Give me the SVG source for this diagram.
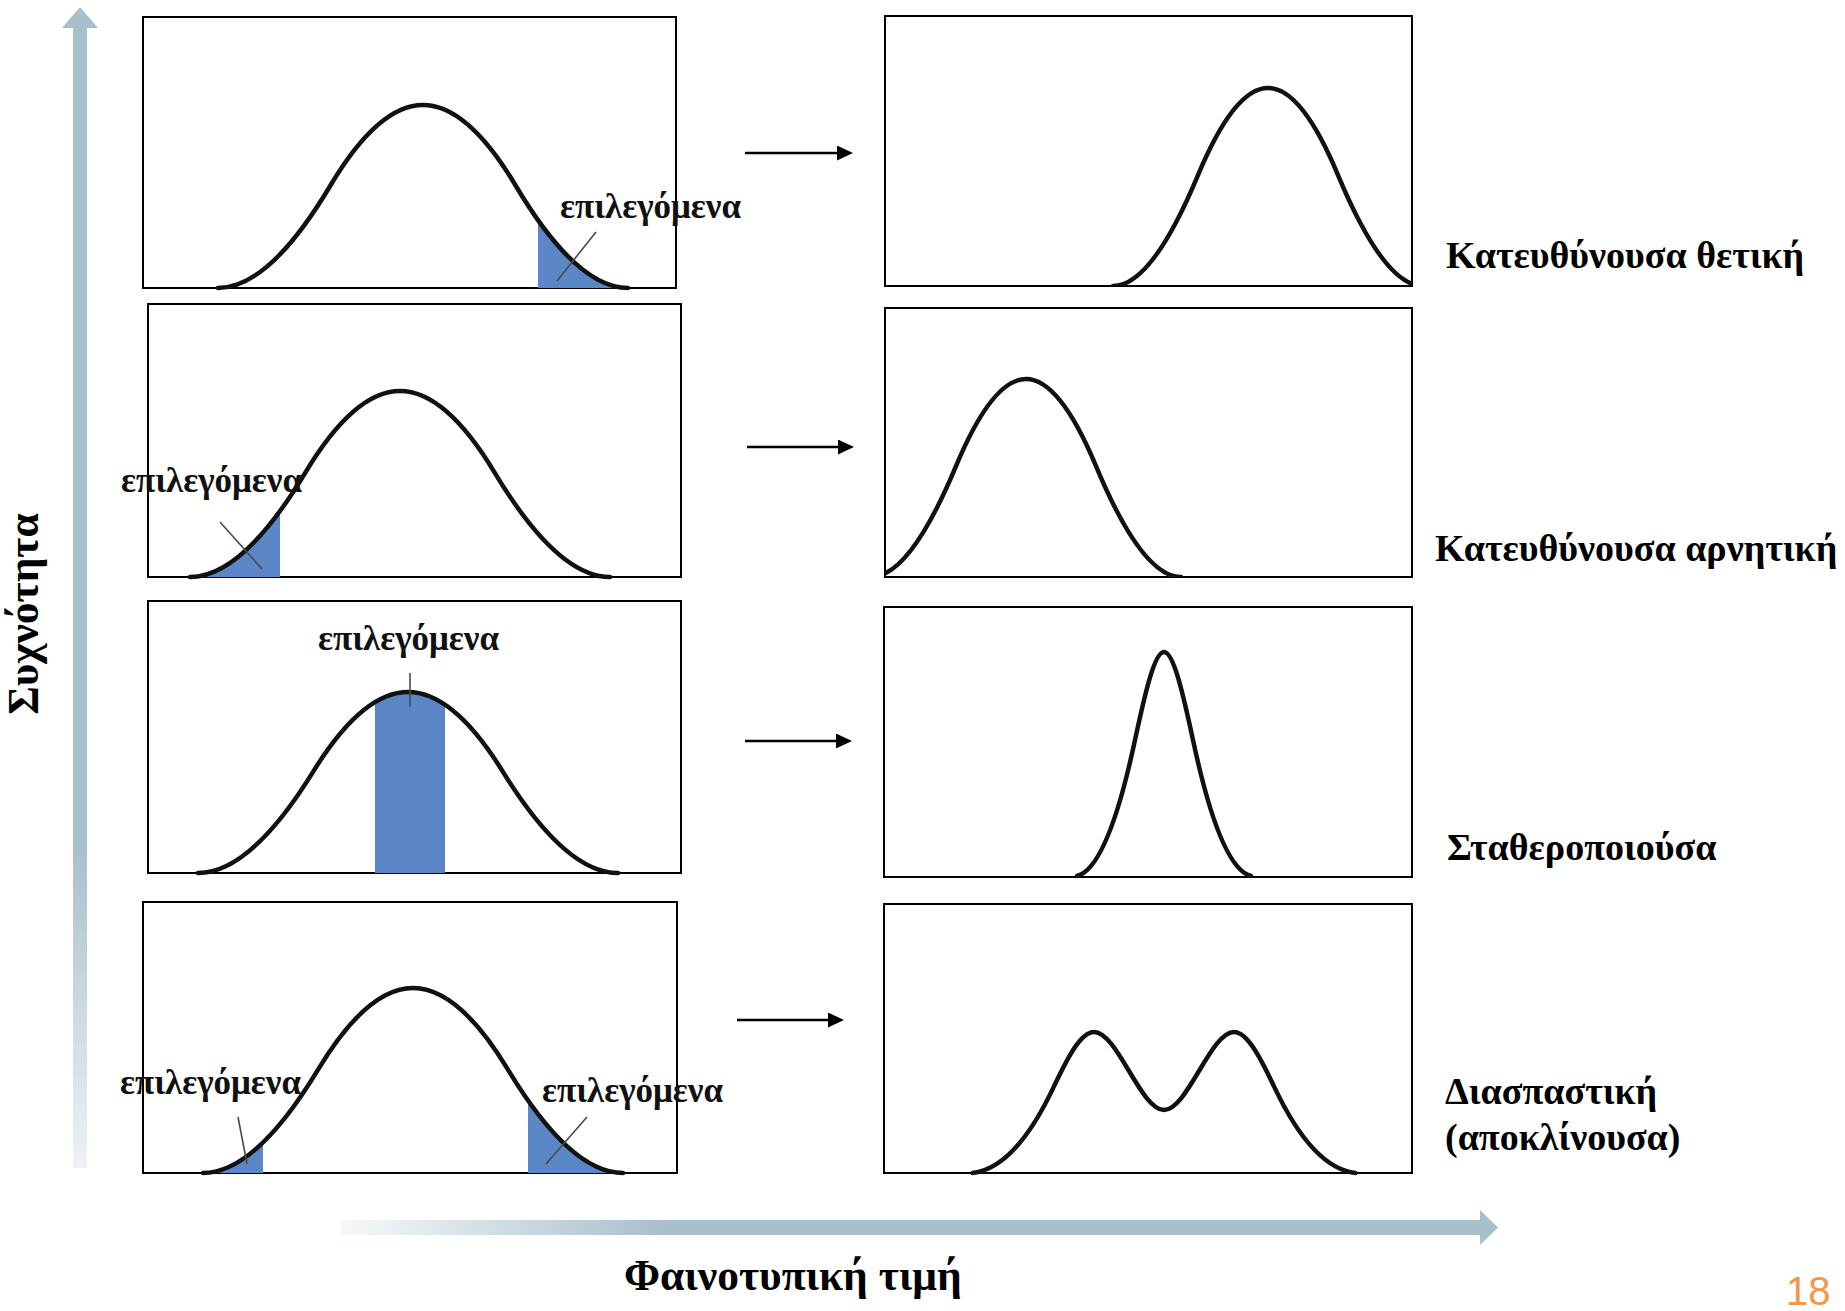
<svg xmlns="http://www.w3.org/2000/svg" width="1845" height="1311" viewBox="0 0 1845 1311">
<style>
.box{fill:#fff;stroke:#000;stroke-width:2}
.curve{fill:none;stroke:#111;stroke-width:4.5;stroke-linecap:round;stroke-linejoin:round}
.shade{fill:#5b87c6}
.lead{stroke:#4a4a4a;stroke-width:1.6}
.sel{font-family:"Liberation Serif","DejaVu Serif",serif;font-weight:bold;font-size:35px;fill:#111}
.lab{font-family:"Liberation Serif","DejaVu Serif",serif;font-weight:bold;font-size:38px;fill:#000}
.axis{font-family:"Liberation Serif","DejaVu Serif",serif;font-weight:bold;font-size:43.5px;fill:#000}
.conn{stroke:#000;stroke-width:2.5;fill:none}
.num{font-family:"Liberation Sans Narrow","Liberation Sans",sans-serif;font-size:40px;fill:#f79646}
</style>
<defs>
<marker id="ah" markerUnits="userSpaceOnUse" markerWidth="17" markerHeight="16" refX="6" refY="7.5" orient="auto">
<path d="M0,0 L16,7.5 L0,15 Z" fill="#000"/>
</marker>
<linearGradient id="gv" gradientUnits="userSpaceOnUse" x1="0" y1="8" x2="0" y2="1168">
<stop offset="0" stop-color="#a8bfcc"/><stop offset="0.72" stop-color="#a8bfcc"/><stop offset="1" stop-color="#edf2f5"/>
</linearGradient>
<linearGradient id="gh" gradientUnits="userSpaceOnUse" x1="341" y1="0" x2="1497" y2="0">
<stop offset="0" stop-color="#f6f9fa"/><stop offset="0.28" stop-color="#a8bfcc"/><stop offset="1" stop-color="#a8bfcc"/>
</linearGradient>
<clipPath id="c1"><path d="M218,288 C255.4,288 293,248.3 330.4,185.5 C361.2,133.9 392.2,105 423,105 C453.8,105 484.8,133.9 515.6,185.5 C553,248.3 590.6,288 628,288 Z"/></clipPath>
<clipPath id="c2"><path d="M190,577 C228.3,577 266.8,536.6 305.2,472.8 C336.7,420.4 368.4,391 400,391 C431.6,391 463.3,420.4 494.8,472.8 C533.2,536.6 571.7,577 610,577 Z"/></clipPath>
<clipPath id="c3"><path d="M198,873 C236.3,873 274.8,833.7 313.2,771.6 C344.7,720.6 376.4,692 408,692 C439.6,692 471.3,720.6 502.8,771.6 C541.2,833.7 579.7,873 618,873 Z"/></clipPath>
<clipPath id="c4"><path d="M203,1173 C241.3,1173 279.8,1132.9 318.2,1069.4 C349.7,1017.2 381.4,988 413,988 C444.6,988 476.3,1017.2 507.8,1069.4 C546.2,1132.9 584.7,1173 623,1173 Z"/></clipPath>
<clipPath id="cr1"><rect x="885" y="16" width="527" height="270"/></clipPath>
<clipPath id="cr2"><rect x="885" y="308" width="527" height="269"/></clipPath>
</defs>
<rect width="1845" height="1311" fill="#fff"/>

<g id="axis-y">
<path d="M73,1168 L73,28 L62,28 L80,7 L98,28 L87,28 L87,1168 Z" fill="url(#gv)"/>
<text class="axis" transform="translate(38,614) rotate(-90)" text-anchor="middle">Συχνότητα</text>
</g>
<g id="axis-x">
<path d="M341,1220 L1480,1220 L1480,1210 L1498,1227.5 L1480,1245 L1480,1235 L341,1235 Z" fill="url(#gh)"/>
<text class="axis" x="624" y="1290">Φαινοτυπική τιμή</text>
</g>

<g id="before-1">
<rect class="box" x="143" y="17" width="533" height="271"/>
<rect class="shade" x="538" y="100" width="100" height="190" clip-path="url(#c1)"/>
<path class="curve" d="M218,288 C255.4,288 293,248.3 330.4,185.5 C361.2,133.9 392.2,105 423,105 C453.8,105 484.8,133.9 515.6,185.5 C553,248.3 590.6,288 628,288"/>
<line class="lead" x1="596" y1="232" x2="557" y2="281"/>
<text class="sel" x="560" y="218">επιλεγόμενα</text>
</g>
<g id="before-2">
<rect class="box" x="148" y="304" width="533" height="273"/>
<rect class="shade" x="150" y="380" width="130" height="200" clip-path="url(#c2)"/>
<path class="curve" d="M190,577 C228.3,577 266.8,536.6 305.2,472.8 C336.7,420.4 368.4,391 400,391 C431.6,391 463.3,420.4 494.8,472.8 C533.2,536.6 571.7,577 610,577"/>
<line class="lead" x1="220" y1="522" x2="262" y2="569"/>
<text class="sel" x="121" y="492">επιλεγόμενα</text>
</g>
<g id="before-3">
<rect class="box" x="148" y="601" width="533" height="272"/>
<rect class="shade" x="375" y="680" width="70" height="195" clip-path="url(#c3)"/>
<path class="curve" d="M198,873 C236.3,873 274.8,833.7 313.2,771.6 C344.7,720.6 376.4,692 408,692 C439.6,692 471.3,720.6 502.8,771.6 C541.2,833.7 579.7,873 618,873"/>
<line class="lead" x1="410" y1="673" x2="410" y2="707"/>
<text class="sel" x="318" y="650">επιλεγόμενα</text>
</g>
<g id="before-4">
<rect class="box" x="143" y="902" width="534" height="271"/>
<rect class="shade" x="150" y="980" width="113" height="195" clip-path="url(#c4)"/>
<rect class="shade" x="528" y="980" width="150" height="195" clip-path="url(#c4)"/>
<path class="curve" d="M203,1173 C241.3,1173 279.8,1132.9 318.2,1069.4 C349.7,1017.2 381.4,988 413,988 C444.6,988 476.3,1017.2 507.8,1069.4 C546.2,1132.9 584.7,1173 623,1173"/>
<line class="lead" x1="238" y1="1117" x2="247" y2="1164"/>
<line class="lead" x1="587" y1="1117" x2="546" y2="1164"/>
<text class="sel" x="120" y="1094">επιλεγόμενα</text>
<text class="sel" x="542" y="1102">επιλεγόμενα</text>
</g>

<g id="after-1">
<rect class="box" x="885" y="16" width="527" height="270"/>
<path class="curve" clip-path="url(#cr1)" d="M1113,286 C1141.3,286 1169.7,243 1198,175.1 C1221.3,119.3 1244.7,88 1268,88 C1291.3,88 1314.7,119.3 1338,175.1 C1366.3,243 1394.7,286 1423,286"/>
<text class="lab" x="1446" y="268">Κατευθύνουσα θετική</text>
</g>
<g id="after-2">
<rect class="box" x="885" y="308" width="527" height="269"/>
<path class="curve" clip-path="url(#cr2)" d="M871,577 C899.3,577 927.7,534 956,466.1 C979.3,410.3 1002.7,379 1026,379 C1049.3,379 1072.7,410.3 1096,466.1 C1124.3,534 1152.7,577 1181,577"/>
<text class="lab" x="1435" y="561">Κατευθύνουσα αρνητική</text>
</g>
<g id="after-3">
<rect class="box" x="884" y="607" width="528" height="270"/>
<path class="curve" d="M1077,876 C1096.3,871.1 1115.7,830.8 1135,740 C1144.7,694.8 1154.3,652 1164,652 C1173.7,652 1183.3,694.8 1193,740 C1212.3,830.8 1231.7,871.1 1251,876"/>
<text class="lab" x="1447" y="860">Σταθεροποιούσα</text>
</g>
<g id="after-4">
<rect class="box" x="884" y="904" width="528" height="269"/>
<path class="curve" d="M972.5,1173 C999.5,1169.9 1026.5,1144.5 1053.5,1087.4 C1067,1058.9 1080.5,1032 1094,1032 C1117.3,1032 1140.7,1110 1164,1110 C1187.3,1110 1210.7,1032 1234,1032 C1247.5,1032 1261,1058.9 1274.5,1087.4 C1301.5,1144.5 1328.5,1169.9 1355.5,1173"/>
<text class="lab" x="1445" y="1104">Διασπαστική</text>
<text class="lab" x="1445" y="1150">(αποκλίνουσα)</text>
</g>

<g id="connectors">
<line class="conn" x1="745" y1="153" x2="843" y2="153" marker-end="url(#ah)"/>
<line class="conn" x1="747" y1="447" x2="844" y2="447" marker-end="url(#ah)"/>
<line class="conn" x1="745" y1="741" x2="842" y2="741" marker-end="url(#ah)"/>
<line class="conn" x1="737" y1="1020" x2="834" y2="1020" marker-end="url(#ah)"/>
</g>

<text class="num" x="1786" y="1305">18</text>
</svg>
